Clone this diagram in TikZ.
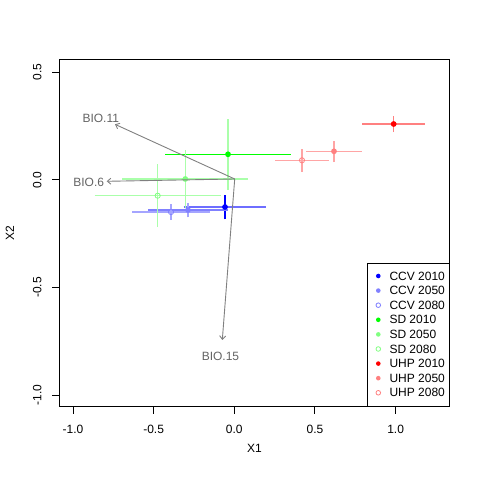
\documentclass[tikz,border=0pt]{standalone}
\usepackage{fontspec}
\setmainfont{Liberation Sans}
\usepackage{xcolor}
\definecolor{ccvfull}{RGB}{0,0,255}
\definecolor{ccvhalf}{RGB}{128,128,255}
\definecolor{ccvbar}{RGB}{110,110,255}
\definecolor{ccvlight}{RGB}{165,165,255}
\definecolor{sdfull}{RGB}{0,255,0}
\definecolor{sdhalf}{RGB}{128,255,128}
\definecolor{sdlight}{RGB}{170,255,170}
\definecolor{uhpfull}{RGB}{255,0,0}
\definecolor{uhphalf}{RGB}{255,128,128}
\definecolor{uhplight}{RGB}{255,165,165}
\definecolor{loadline}{RGB}{128,128,128}
\definecolor{loadtext}{RGB}{100,100,100}
\usepackage{tikz}
\usetikzlibrary{arrows.meta}
% x, y, dx, dy, colour of the horizontal bar, colour of the vertical bar
\newcommand{\errbars}[6]{
    \draw[bar, #5] (#1,#2) ++(-#3,0) -- ++(2*#3,0);
    \draw[bar, #6] (#1,#2) ++(0,-#4) -- ++(0,2*#4);
}
\newcommand{\boxleft}{-1.0865}
\newcommand{\boxright}{1.3358}
\newcommand{\boxtop}{0.5604}
\newcommand{\boxbottom}{-1.0539}
\tikzset{
    txt/.style={font=\fontsize{12bp}{14bp}\selectfont, inner sep=0pt},
    bar/.style={line width=1.2bp},
    ptfull/.style={fill=#1},
    ptopen/.style={draw=#1, line width=0.8bp},
    loading/.style={draw=loadline, line width=0.9bp, -{Straight Barb[length=3.5bp, width=6bp]}},
    loadlabel/.style={txt, text=loadtext},
    tick/.style={line width=0.9bp}
}

\begin{document}
\begin{tikzpicture}[x=161.3bp, y=215.3bp]
    \useasboundingbox (-1.4526,-1.3948) rectangle (1.5233,0.8347);

    % error bars
    \errbars{-0.0577}{-0.1268}{0.256}{0.058}{ccvbar}{ccvfull}
    \errbars{-0.287}{-0.1407}{0.246}{0.0348}{ccvhalf}{ccvlight}
    \errbars{-0.3924}{-0.150}{0.2405}{0.0372}{ccvlight}{ccvlight}
    \errbars{-0.039}{0.118}{0.3896}{0.164}{sdfull}{sdlight}
    \errbars{-0.3038}{0.0033}{0.3906}{0.1356}{sdlight}{sdlight}
    \errbars{-0.475}{-0.0743}{0.3906}{0.1456}{sdlight}{sdlight}
    \errbars{0.988}{0.2587}{0.1944}{0.0372}{uhphalf}{uhphalf}
    \errbars{0.618}{0.1319}{0.1717}{0.0497}{uhplight}{uhplight}
    \errbars{0.4197}{0.0901}{0.1674}{0.052}{uhplight}{uhplight}

    % group means
    \path[ptfull=ccvfull] (-0.0577,-0.1268) circle (2.9bp);
    \path[ptfull=ccvhalf] (-0.287,-0.1407) circle (2.9bp);
    \path[ptopen=ccvhalf] (-0.3924,-0.150) circle (2.6bp);
    \path[ptfull=sdfull] (-0.039,0.118) circle (2.9bp);
    \path[ptfull=sdhalf] (-0.3038,0.0033) circle (2.9bp);
    \path[ptopen=sdhalf] (-0.475,-0.0743) circle (2.6bp);
    \path[ptfull=uhpfull] (0.988,0.2587) circle (2.9bp);
    \path[ptfull=uhphalf] (0.618,0.1319) circle (2.9bp);
    \path[ptopen=uhphalf] (0.4197,0.0901) circle (2.6bp);

    % loadings
    \coordinate (origin) at (0.0025,0.0033);
    \coordinate (bio11-tip) at (-0.7396,0.2573);
    \coordinate (bio6-tip) at (-0.791,-0.0074);
    \coordinate (bio15-tip) at (-0.0744,-0.7445);
    \draw[loading] (origin) -- (bio11-tip);
    \draw[loading] (origin) -- (bio6-tip);
    \draw[loading] (origin) -- (bio15-tip);
    \node[loadlabel] (bio11) at (-0.8277,0.2845) {BIO.11};
    \node[loadlabel] (bio6) at (-0.9027,-0.0107) {BIO.6};
    \node[loadlabel] (bio15) at (-0.0856,-0.8189) {BIO.15};

    % frame and axes
    \draw[line width=0.9bp] (\boxleft,\boxbottom) rectangle (\boxright,\boxtop);
    \foreach \v in {-1.0,-0.5,0.0,0.5,1.0}
        \draw[tick] (\v,\boxbottom) -- ++(0,-0.0334)
            node[txt, anchor=center] (xtick\v) at (\v,-1.158) {\v};
    \foreach \v in {-1.0,-0.5,0.0,0.5}
        \draw[tick] (\boxleft,\v) -- ++(-0.0446,0)
            node[txt, rotate=90, anchor=center] (ytick\v) at (-1.2213,\v) {\v};
    \node[txt] (xlabel) at (0.1248,-1.2476) {X1};
    \node[txt, rotate=90] (ylabel) at (-1.3906,-0.2468) {X2};

    % legend
    \draw[line width=0.9bp, fill=white] (0.8245,-0.3883) rectangle (\boxright,\boxbottom);
    \foreach \lab/\kind/\col [count=\i from 0] in {
            CCV 2010/ptfull/ccvfull, CCV 2050/ptfull/ccvhalf, CCV 2080/ptopen/ccvhalf,
            SD 2010/ptfull/sdfull, SD 2050/ptfull/sdhalf, SD 2080/ptopen/sdhalf,
            UHP 2010/ptfull/uhpfull, UHP 2050/ptfull/uhphalf, UHP 2080/ptopen/uhphalf} {
        \path[\kind=\col] (0.8927,-0.4473-0.0678*\i) circle (2.3bp);
        \node[txt, anchor=west] (legend\i) at (0.961,-0.4473-0.0678*\i) {\lab};
    }
\end{tikzpicture}
\end{document}
